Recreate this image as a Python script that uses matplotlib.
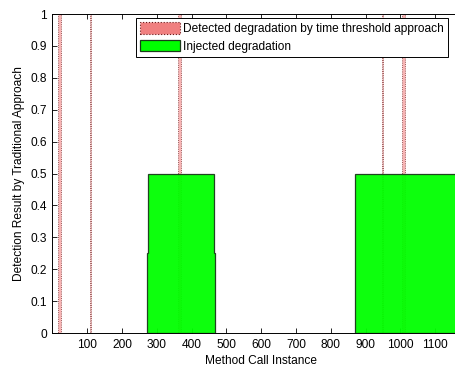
import numpy as np
import matplotlib
matplotlib.use('Agg')
import matplotlib.pyplot as plt
from matplotlib.patches import Patch

# detected degradation intervals (method call instance), full height bars
det_start = [15, 107, 361, 947, 1005]
det_end = [25, 111, 370, 951, 1012]
det_height = 1.0

# injected degradation regions (outline of each green area)
inj1_x = [272, 272, 275, 275, 465, 465, 468, 468]
inj1_y = [0, 0.25, 0.25, 0.5, 0.5, 0.25, 0.25, 0]
inj2_x = [869, 869, 1200, 1200]
inj2_y = [0, 0.5, 0.5, 0]

xticks = [100, 200, 300, 400, 500, 600, 700, 800, 900, 1000, 1100]
yticks = np.round(np.arange(0, 1.01, 0.1), 1)

plt.rcParams['font.family'] = ['Liberation Sans', 'DejaVu Sans']
plt.rcParams['font.size'] = 8.6

fig = plt.figure(figsize=(4.56, 3.72), dpi=100)
ax = fig.add_axes([0.1151, 0.1048, 0.9158, 0.8575])

# red detection bars below, green areas on top
for s, e in zip(det_start, det_end):
	ax.bar(s, det_height, width=e - s, align='edge', facecolor='#f7b3b3',
		edgecolor='#7a3030', linestyle=':', linewidth=0.6, zorder=1)
for xs, ys in [(inj1_x, inj1_y), (inj2_x, inj2_y)]:
	ax.fill(xs, ys, facecolor='#00ff00', edgecolor='#1a3a1a', linewidth=0.9,
		alpha=0.95, zorder=2)

ax.set_xlim(0, 1200)
ax.set_ylim(0, 1)
ax.set_xticks(xticks)
ax.set_yticks(yticks)
ax.set_yticklabels(['0'] + ['%.1f' % v for v in yticks[1:-1]] + ['1'])
ax.tick_params(direction='in', top=True, right=True, length=3.5, width=0.6, pad=4)
for sp in ax.spines.values():
	sp.set_linewidth(0.7)

ax.set_xlabel('Method Call Instance', labelpad=3)
ax.set_ylabel('Detection Result by Traditional Approach', labelpad=4)

handles = [Patch(facecolor='#f08080', edgecolor='#6a1a1a', linestyle=':', linewidth=0.8),
	Patch(facecolor='#00ff00', edgecolor='#1a3a1a', linewidth=0.9)]
labels = ['Detected degradation by time threshold approach', 'Injected degradation']
leg = ax.legend(handles, labels, loc='upper right', bbox_to_anchor=(0.983, 0.951),
	bbox_transform=fig.transFigure, fancybox=False, framealpha=1, edgecolor='k',
	handlelength=3.3, handleheight=1.1, handletextpad=0.3, borderpad=0.35,
	labelspacing=0.4, borderaxespad=0)
leg.get_frame().set_linewidth(0.7)

plt.savefig('out.png', dpi=100)
plt.close()
